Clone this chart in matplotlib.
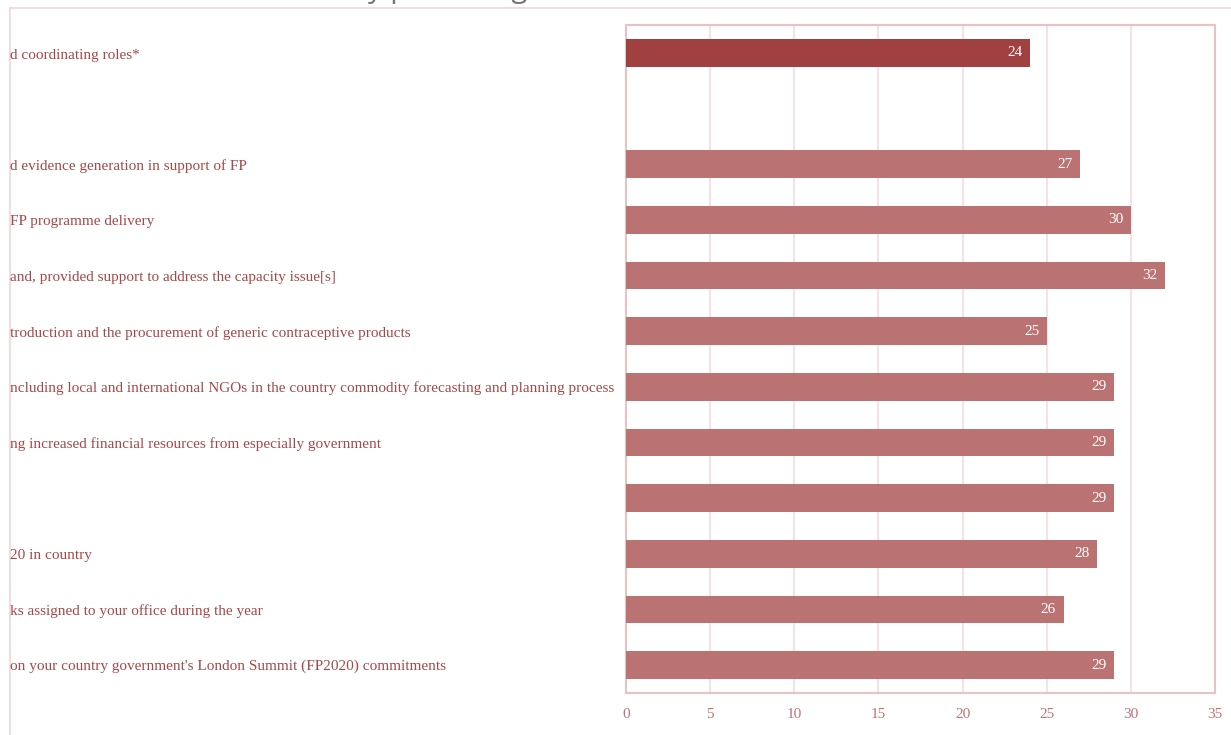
import matplotlib
matplotlib.use("Agg")
import matplotlib.pyplot as plt
from matplotlib.lines import Line2D

# labels as visible in the (cropped) reference, top to bottom
labels = [
    "d coordinating roles*",
    "",
    "d evidence generation in support of FP",
    "FP programme delivery",
    "and, provided support to address the capacity issue[s]",
    "troduction and the procurement of generic contraceptive products",
    "ncluding local and international NGOs in the country commodity forecasting and planning process",
    "ng increased financial resources from especially government",
    "",
    "20 in country",
    "ks assigned to your office during the year",
    "on your country government's London Summit (FP2020) commitments",
]
values = [24, None, 27, 30, 32, 25, 29, 29, 29, 28, 26, 29]
highlight = [True] + [False] * 11
xticks = [0, 5, 10, 15, 20, 25, 30, 35]

dark = "#a04040"
light = "#ba7272"
text_col = "#a54848"
tick_col = "#c07272"
frame_col = "#e6c4c4"
grid_col = "#f3e4e4"

W, H = 1231, 735
fig = plt.figure(figsize=(W / 100, H / 100), dpi=100)
ax = fig.add_axes([626 / W, 1 - 693 / H, (1215 - 626) / W, (693 - 25) / H])

for i, v in enumerate(values):
    if v is None:
        continue
    ax.barh(i, v, height=0.5, color=dark if highlight[i] else light, zorder=3)
    ax.text(v - 0.45, i, str(v), ha="right", va="center", color="white",
            fontsize=11, family="Liberation Serif", zorder=4)

ax.set_ylim(len(values) - 0.5, -0.5)
ax.set_xlim(0, 35)
ax.set_xticks(xticks)
ax.set_xticklabels([str(t) for t in xticks], color=tick_col, fontsize=11,
                   family="Liberation Serif")
ax.tick_params(axis="x", length=0, pad=11)
ax.set_yticks([])
ax.grid(axis="x", color=grid_col, linewidth=1.5, zorder=0)
for s in ax.spines.values():
    s.set_color(frame_col)
    s.set_linewidth(1.5)

# category labels, left aligned and cut by the left edge
for i, lab in enumerate(labels):
    if not lab:
        continue
    y = 1 - (55 + i * 55.6) / H
    fig.text(10 / W, y, lab, ha="left", va="center", color=text_col,
             fontsize=11, family="Liberation Serif")

# outer frame of the chart area
fig.add_artist(Line2D([10 / W, 1], [1 - 8 / H, 1 - 8 / H], color="#f0d6d6", lw=1.2))
fig.add_artist(Line2D([10 / W, 10 / W], [0, 1 - 8 / H], color="#f0d6d6", lw=1.2))

# title, mostly cut off at the top
fig.text(368 / W, 1 + 3 / H, "y percentage", ha="left", va="baseline",
         color="#777777", fontsize=21, family="Open Sans")

fig.savefig("out.png", dpi=100)
